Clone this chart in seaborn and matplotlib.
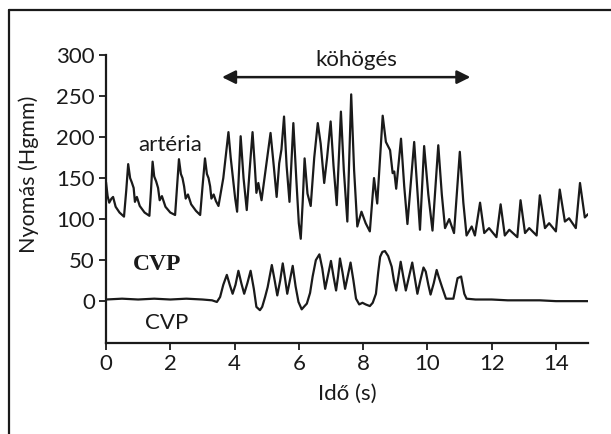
import matplotlib
matplotlib.use("Agg")
import matplotlib.pyplot as plt
from matplotlib.lines import Line2D
import seaborn as sns
import pandas as pd

# ---- data ----
art_t = [0.00, 0.05, 0.10, 0.17, 0.22, 0.30, 0.42, 0.56, 0.63, 0.69, 0.75, 0.80, 0.86, 0.90, 0.96,
         1.05, 1.20, 1.35, 1.40, 1.45, 1.50, 1.56, 1.62, 1.67, 1.74, 1.85, 2.00, 2.15, 2.21, 2.27,
         2.33, 2.38, 2.43, 2.48, 2.55, 2.65, 2.80, 2.93, 3.00, 3.08, 3.14, 3.19, 3.24, 3.28, 3.35,
         3.42, 3.50, 3.65, 3.81, 3.88, 3.95, 4.02, 4.08, 4.19, 4.28, 4.38, 4.47, 4.56, 4.63, 4.68,
         4.74, 4.84, 4.95, 5.12, 5.22, 5.31, 5.39, 5.46, 5.54, 5.62, 5.71, 5.83, 5.92, 6.00, 6.06,
         6.12, 6.18, 6.27, 6.37, 6.48, 6.59, 6.68, 6.79, 6.88, 6.99, 7.08, 7.18, 7.31, 7.40, 7.51,
         7.63, 7.72, 7.82, 7.95, 8.08, 8.21, 8.34, 8.44, 8.61, 8.71, 8.84, 8.92, 8.97, 9.03, 9.18,
         9.28, 9.38, 9.59, 9.68, 9.77, 9.90, 10.03, 10.16, 10.34, 10.45, 10.55, 10.68, 10.83, 11.01,
         11.12, 11.22, 11.38, 11.48, 11.64, 11.77, 11.92, 12.15, 12.28, 12.41, 12.55, 12.80, 12.90,
         13.04, 13.17, 13.40, 13.50, 13.66, 13.79, 14.00, 14.12, 14.28, 14.41, 14.62, 14.75, 14.90,
         15.00]
art_p = [145, 128, 120, 125, 127, 115, 108, 103, 135, 167, 150, 145, 138, 121, 127,
         116, 108, 104, 135, 170, 152, 146, 138, 123, 128, 115, 108, 105, 140, 173,
         155, 150, 140, 125, 130, 118, 110, 105, 138, 174, 155, 150, 140, 125, 130,
         122, 116, 150, 206, 175, 150, 125, 109, 201, 150, 111, 160, 206, 165, 132,
         144, 123, 155, 205, 165, 127, 168, 185, 225, 165, 121, 217, 150, 95, 76,
         120, 174, 131, 116, 175, 217, 192, 144, 175, 219, 165, 117, 231, 160, 97,
         252, 160, 91, 109, 95, 85, 150, 119, 226, 194, 184, 156, 158, 137, 198,
         140, 94, 194, 140, 87, 189, 130, 86, 190, 130, 89, 100, 83, 182,
         120, 80, 91, 80, 120, 83, 89, 78, 118, 80, 87, 78, 123,
         83, 89, 80, 129, 89, 95, 85, 136, 97, 101, 89, 144, 102,
         106]

cvp_t = [0.0, 0.5, 1.0, 1.5, 2.0, 2.5, 3.0, 3.3, 3.45, 3.55, 3.65, 3.76, 3.85, 3.94, 4.03, 4.12,
         4.21, 4.30, 4.40, 4.50, 4.60, 4.68, 4.79, 4.86, 4.95, 5.03, 5.16, 5.25, 5.33, 5.42, 5.50,
         5.57, 5.64, 5.72, 5.81, 5.90, 5.99, 6.09, 6.18, 6.25, 6.35, 6.43, 6.53, 6.64, 6.73, 6.82,
         6.90, 7.00, 7.08, 7.16, 7.22, 7.28, 7.36, 7.44, 7.52, 7.61, 7.70, 7.78, 7.88, 7.98, 8.08,
         8.21, 8.30, 8.40, 8.47, 8.53, 8.60, 8.68, 8.78, 8.89, 8.96, 9.03, 9.10, 9.17, 9.25, 9.33,
         9.43, 9.53, 9.61, 9.69, 9.78, 9.88, 9.95, 10.03, 10.10, 10.20, 10.29, 10.35, 10.45, 10.58,
         10.81, 10.94, 11.05, 11.15, 11.22, 11.5, 12.0, 12.5, 13.0, 13.5, 14.0, 14.5, 15.0]
cvp_p = [2, 3, 2, 3, 2, 3, 2, 1, -1, 5, 20, 32, 20, 9, 20, 37,
         22, 9, 22, 37, 15, -7, -11, -7, 5, 17, 44, 25, 7, 25, 46,
         28, 9, 25, 43, 18, -1, -10, -6, -3, 10, 30, 50, 57, 40, 15,
         30, 49, 30, 13, 30, 52, 35, 15, 30, 47, 25, 3, -4, -2, -4,
         -6, -2, 9, 35, 54, 60, 61, 55, 42, 25, 13, 30, 48, 30, 13,
         30, 47, 28, 9, 25, 41, 36, 20, 8, 22, 38, 30, 18, 3,
         3, 28, 30, 9, 3, 2, 2, 1, 1, 1, 0, 0, 0]

y_ticks = [0, 50, 100, 150, 200, 250, 300]
x_ticks = [0, 2, 4, 6, 8, 10, 12, 14]

sns.set_theme(style="white")
plt.rcParams['font.family'] = ['Lato', 'DejaVu Sans']

INK = '#1a1a1a'
fig = plt.figure(figsize=(6.11, 4.34), dpi=100)
ax = fig.add_axes([0.1735, 0.2097, 0.9624 - 0.1735, 0.8733 - 0.2097])

df_a = pd.DataFrame({"t": art_t, "p": art_p})
df_c = pd.DataFrame({"t": cvp_t, "p": cvp_p})
sns.lineplot(data=df_a, x="t", y="p", ax=ax, color=INK, lw=1.6, estimator=None)
sns.lineplot(data=df_c, x="t", y="p", ax=ax, color=INK, lw=1.6, estimator=None)

ax.set_xlim(0, 15)
ax.set_ylim(-51, 300)
ax.set_xticks(x_ticks)
ax.set_yticks(y_ticks)
ax.tick_params(axis='both', direction='out', length=5, width=1.3, colors=INK,
               labelsize=16, pad=3, left=True, bottom=True)
for s in ['top', 'right']:
    ax.spines[s].set_visible(False)
for s in ['left', 'bottom']:
    ax.spines[s].set_color(INK)
    ax.spines[s].set_linewidth(1.6)
ax.spines['left'].set_bounds(-51, 300)

ax.set_xlabel("Idő (s)", fontsize=16, color=INK, labelpad=7)
ax.set_ylabel("Nyomás (Hgmm)", fontsize=15.5, color=INK)
ax.yaxis.set_label_coords(-0.14, 0.587)

ax.text(2.0, 190, "artéria", fontsize=16, ha='center', va='center', color=INK)
ax.text(1.6, 45, "CVP", fontsize=17, ha='center', va='center', color=INK,
        family='Liberation Serif', fontweight='bold')
ax.text(1.9, -27, "CVP", fontsize=16, ha='center', va='center', color=INK)
ax.text(7.8, 294, "köhögés", fontsize=16, ha='center', va='center', color=INK)
ax.annotate("", xy=(3.61, 273), xytext=(11.34, 273),
            arrowprops=dict(arrowstyle='<|-|>', color=INK, lw=1.8,
                            mutation_scale=20, shrinkA=0, shrinkB=0))

# outer frame (top and left edges visible in the reference)
fig.add_artist(Line2D([8.5 / 611, 1.0], [1 - 9.5 / 434, 1 - 9.5 / 434],
                      transform=fig.transFigure, color=INK, lw=1.6))
fig.add_artist(Line2D([8.5 / 611, 8.5 / 611], [0, 1 - 9.5 / 434],
                      transform=fig.transFigure, color=INK, lw=1.6))

fig.savefig("out.png", dpi=100, facecolor='white')
